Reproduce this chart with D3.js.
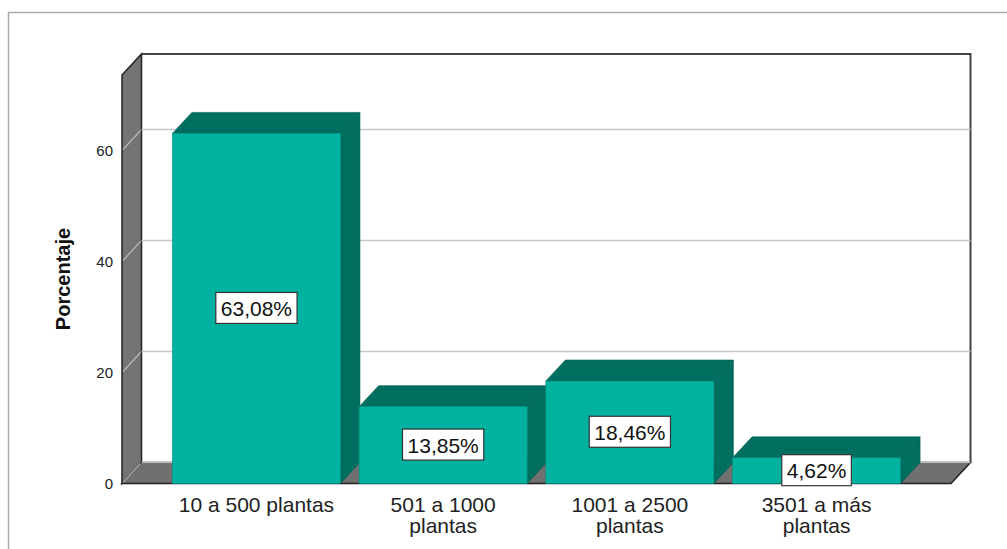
<!DOCTYPE html>
<html>
<head>
<meta charset="utf-8">
<script src="https://cdn.jsdelivr.net/npm/d3@7"></script>
<style>
  body { margin: 0; background: #fff; }
  svg { display: block; font-family: "Liberation Sans", Arial, sans-serif; }
</style>
</head>
<body>
<svg></svg>
<script>
var width = 1007,
    height = 549;

// data
var categories = ["10 a 500 plantas", "501 a 1000 plantas", "1001 a 2500 plantas", "3501 a más plantas"];
var catLines = [["10 a 500 plantas"], ["501 a 1000", "plantas"], ["1001 a 2500", "plantas"], ["3501 a más", "plantas"]];
var percents = [63.08, 13.85, 18.46, 4.62];
var pctLabels = ["63,08%", "13,85%", "18,46%", "4,62%"];
var yTicks = [0, 20, 40, 60];
var yMax = 73.6;

var dx = 19.5, dy = 21; // depth offset of the 3d box

var svg = d3.select('svg')
            .attr('width', width)
            .attr('height', height);

// outer frame
svg.append('rect')
   .attr('x', 8.5).attr('y', 12.5)
   .attr('width', 1010).attr('height', 560)
   .attr('fill', 'none')
   .attr('stroke', '#aaa')
   .attr('stroke-width', 1.5);

var x = d3.scaleBand()
          .domain(categories)
          .range([122, 951])
          .paddingInner(0.1)
          .paddingOuter(0.27);

var y = d3.scaleLinear()
          .domain([0, yMax])
          .range([483.5, 75]);

var x0 = 122, x1 = 951;

function poly(pts){
  return 'M' + pts.map(p => p[0] + ',' + p[1]).join('L') + 'Z';
}

// back wall
svg.append('rect')
   .attr('x', x0 + dx).attr('y', y(yMax) - dy)
   .attr('width', x1 - x0).attr('height', y(0) - y(yMax))
   .attr('fill', '#fff');

// gridlines on back wall + diagonal on side wall
var grid = svg.append('g').classed('grid', true);
grid.selectAll('line.back')
    .data(yTicks)
    .enter()
    .append('line')
      .classed('back', true)
      .attr('x1', x0 + dx).attr('x2', x1 + dx)
      .attr('y1', d => y(d) - dy).attr('y2', d => y(d) - dy)
      .attr('stroke', '#c8c8c8')
      .attr('stroke-width', 1.5);

// left wall
svg.append('path')
   .attr('d', poly([[x0, y(0)], [x0, y(yMax)], [x0 + dx, y(yMax) - dy], [x0 + dx, y(0) - dy]]))
   .attr('fill', '#747474')
   .attr('stroke', '#222')
   .attr('stroke-width', 1.5);

// floor
svg.append('path')
   .attr('d', poly([[x0, y(0)], [x0 + dx, y(0) - dy], [x1 + dx, y(0) - dy], [x1, y(0)]]))
   .attr('fill', '#707070')
   .attr('stroke', '#222')
   .attr('stroke-width', 1.5);

// back wall outline (top + right)
svg.append('path')
   .attr('d', 'M' + (x0 + dx) + ',' + (y(yMax) - dy) + 'L' + (x1 + dx) + ',' + (y(yMax) - dy) + 'L' + (x1 + dx) + ',' + (y(0) - dy))
   .attr('fill', 'none')
   .attr('stroke', '#444')
   .attr('stroke-width', 2);

grid.raise();
grid.selectAll('line.diag')
    .data(yTicks)
    .enter()
    .append('line')
      .classed('diag', true)
      .attr('x1', x0 + 1).attr('x2', x0 + dx - 1)
      .attr('y1', d => y(d) - 1).attr('y2', d => y(d) - dy + 1)
      .attr('stroke', '#b8b8b8')
      .attr('stroke-width', 1.2);
grid.select('line.back').attr('stroke', '#bbb');

// bars
var bars = svg.append('g').classed('bars', true)
              .selectAll('g.bar')
              .data(percents)
              .enter()
              .append('g')
              .classed('bar', true);

bars.append('path')   // side
    .attr('d', (d, i) => {
      var r = x(categories[i]) + x.bandwidth();
      return poly([[r, y(0)], [r, y(d)], [r + dx, y(d) - dy], [r + dx, y(0) - dy]]);
    })
    .attr('fill', '#006f60')
    .attr('stroke', '#005a4e')
    .attr('stroke-width', 0.6);

bars.append('path')   // top
    .attr('d', (d, i) => {
      var l = x(categories[i]), r = l + x.bandwidth();
      return poly([[l, y(d)], [l + dx, y(d) - dy], [r + dx, y(d) - dy], [r, y(d)]]);
    })
    .attr('fill', '#006f60')
    .attr('stroke', '#005a4e')
    .attr('stroke-width', 0.6);

bars.append('rect')   // front
    .attr('x', (d, i) => x(categories[i]))
    .attr('y', d => y(d))
    .attr('width', x.bandwidth())
    .attr('height', d => y(0) - y(d))
    .attr('fill', '#00b29f')
    .attr('stroke', '#008c7c')
    .attr('stroke-width', 0.6);

// value labels
var labels = svg.append('g').classed('labels', true)
                .selectAll('g')
                .data(percents)
                .enter()
                .append('g')
                .attr('transform', (d, i) => 'translate(' + (x(categories[i]) + x.bandwidth() / 2) + ',' + ((y(d) + y(0)) / 2) + ')');

labels.append('text')
      .attr('text-anchor', 'middle')
      .attr('dy', '0.36em')
      .style('font-size', '21px')
      .attr('fill', '#111')
      .text((d, i) => pctLabels[i]);

labels.each(function(){
  var g = d3.select(this);
  var bb = g.select('text').node().getBBox();
  g.insert('rect', 'text')
   .attr('x', bb.x - 5).attr('y', -16)
   .attr('width', bb.width + 10).attr('height', 31)
   .attr('fill', '#fff')
   .attr('stroke', '#333')
   .attr('stroke-width', 1.2);
});

// y axis tick labels
var yAxis = d3.axisLeft(y)
              .tickValues(yTicks)
              .tickSize(0)
              .tickPadding(9)
              .tickFormat(d3.format('d'));

svg.append('g')
   .attr('transform', 'translate(' + x0 + ',0)')
   .call(yAxis)
   .call(g => g.select('.domain').remove())
   .selectAll('text')
     .style('font-size', '15px')
     .style('font-family', '"Liberation Sans", Arial, sans-serif')
     .attr('fill', '#222');

svg.append('text')
   .attr('transform', 'translate(70,' + 279 + ') rotate(-90)')
   .attr('text-anchor', 'middle')
   .style('font-size', '20px')
   .style('font-weight', 'bold')
   .attr('fill', '#111')
   .text('Porcentaje');

// x category labels
var xl = svg.append('g').classed('xlabels', true)
            .selectAll('text')
            .data(catLines)
            .enter()
            .append('text')
            .attr('text-anchor', 'middle')
            .attr('x', (d, i) => x(categories[i]) + x.bandwidth() / 2)
            .attr('y', 512)
            .style('font-size', '21px')
            .attr('fill', '#222');

xl.selectAll('tspan')
  .data(d => d)
  .enter()
  .append('tspan')
    .attr('x', function(){ return d3.select(this.parentNode).attr('x'); })
    .attr('dy', (d, i) => i === 0 ? 0 : 21)
    .text(d => d);
</script>
</body>
</html>
